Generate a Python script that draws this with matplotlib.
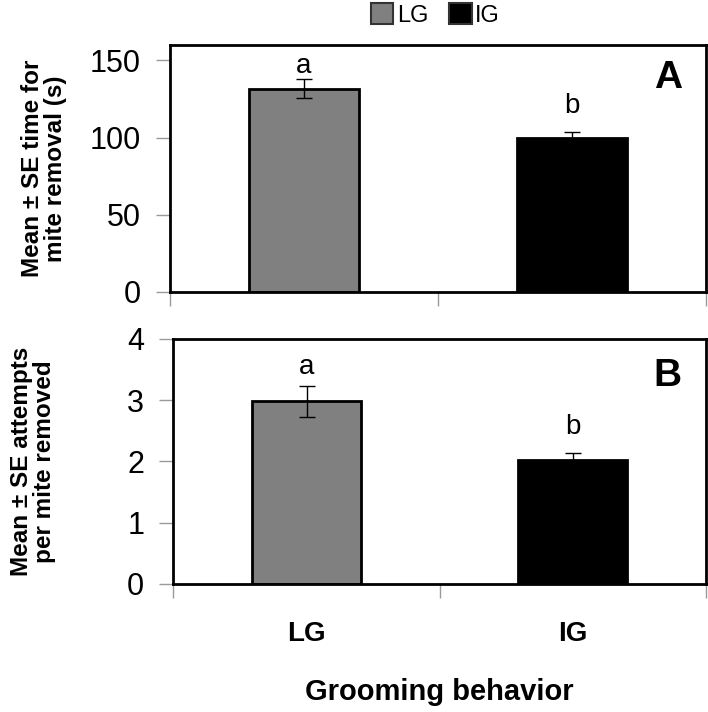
import matplotlib.pyplot as plt
from matplotlib.patches import Patch

FAMILY = ["Liberation Sans Narrow", "Arimo", "Liberation Sans", "DejaVu Sans"]
plt.rcParams["font.family"] = FAMILY

groups = ["LG", "IG"]
colors = ["#808080", "#000000"]

# panel A: time for mite removal (s)
time_mean = [131.7, 99.5]
time_se = [6.2, 4.1]
time_letter_y = [142, 116]
# panel B: attempts per mite removed
att_mean = [2.98, 2.02]
att_se = [0.25, 0.11]
att_letter_y = [3.42, 2.44]
letters = ["a", "b"]

fig = plt.figure(figsize=(7.08, 7.12), dpi=100)
axA = fig.add_axes([0.240, 0.590, 0.757, 0.347])
axB = fig.add_axes([0.245, 0.180, 0.752, 0.344])

panels = [
    (axA, time_mean, time_se, time_letter_y, (0, 160), [0, 50, 100, 150], "A", 0.866,
     "Mean \u00b1 SE time for\nmite removal (s)", -0.192),
    (axB, att_mean, att_se, att_letter_y, (0, 4), [0, 1, 2, 3, 4], "B", 0.85,
     "Mean \u00b1 SE attempts\nper mite removed", -0.22),
]

x = [0, 1]
for ax, mean, se, ly, ylim, yticks, tag, tag_y, ylab, lab_x in panels:
    ax.bar(x, mean, width=0.41, color=colors, edgecolor="black", linewidth=2, zorder=2)
    ax.errorbar(x, mean, yerr=se, fmt="none", ecolor="black", elinewidth=1,
                capsize=6, capthick=1, zorder=3)
    for xi, yy, lt in zip(x, ly, letters):
        ax.text(xi, yy, lt, ha="center", va="baseline", fontsize=20)
    ax.set_xlim(-0.5, 1.5)
    ax.set_ylim(*ylim)
    ax.set_yticks(yticks)
    ax.tick_params(axis="y", direction="out", length=10, width=1, color="#999999",
                   pad=11, labelsize=22)
    ax.set_xticks(x)
    ax.tick_params(axis="x", which="major", length=0, pad=27)
    ax.set_xticks([-0.5, 0.5, 1.5], minor=True)
    ax.tick_params(axis="x", which="minor", direction="out", length=10, width=1,
                   color="#999999")
    for sp in ax.spines.values():
        sp.set_linewidth(2)
    ax.text(0.955, tag_y, tag, transform=ax.transAxes, ha="right", va="center",
            fontsize=28, fontweight="bold")
    ax.set_ylabel(ylab, fontsize=17.5, fontweight="bold", linespacing=1.0)
    ax.yaxis.set_label_coords(lab_x, 0.5)
    ax.yaxis.label.set_va("bottom")

axA.set_xticklabels(["", ""])
axB.set_xticklabels(groups, fontsize=20, fontweight="bold")
axB.set_xlabel("Grooming behavior", fontsize=21, fontweight="bold", labelpad=22)

handles = [Patch(facecolor=c, edgecolor="#333333", linewidth=1.5) for c in colors]
fig.legend(handles, groups, loc="upper center", bbox_to_anchor=(0.615, 1.025), ncol=2,
           frameon=False, fontsize=17, handlelength=0.95, handleheight=0.95,
           handletextpad=0.15, columnspacing=0.9)

fig.savefig("out.png", dpi=100)
